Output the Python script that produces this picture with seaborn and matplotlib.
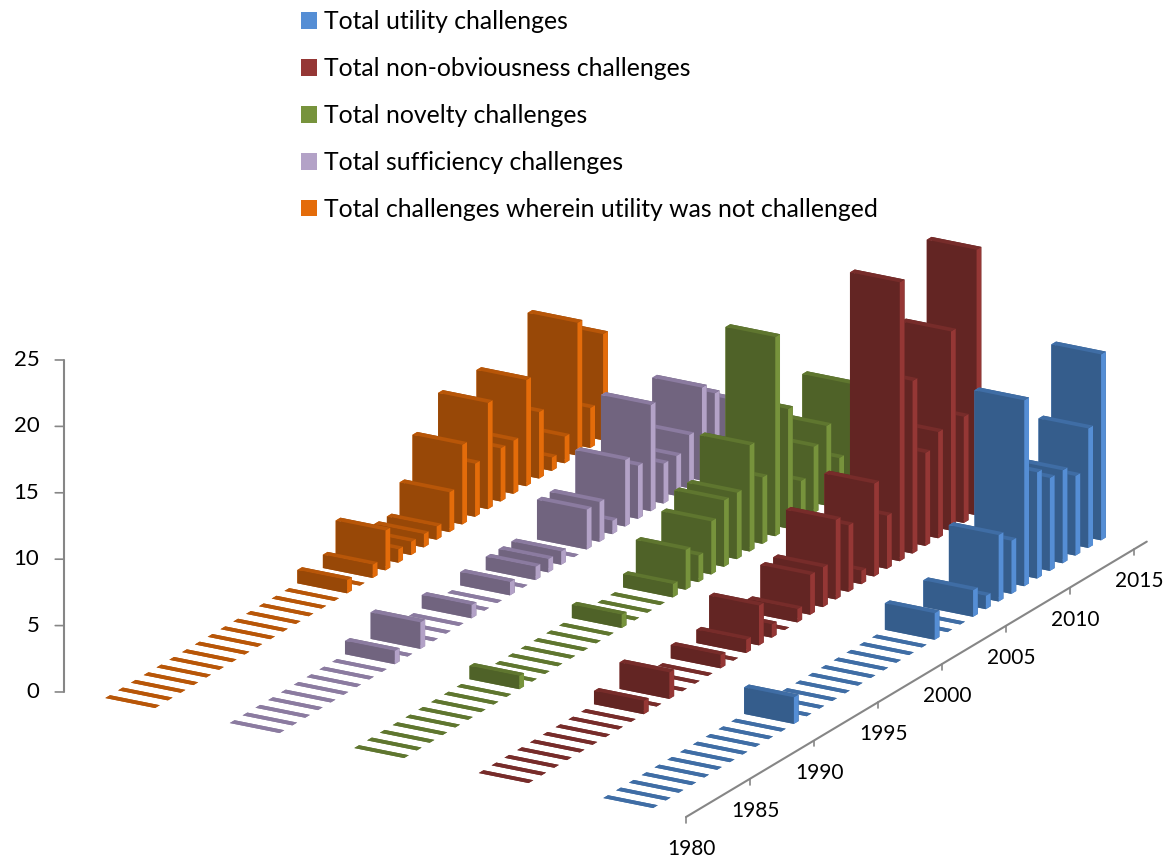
import numpy as np
import seaborn as sns
import matplotlib
matplotlib.use("Agg")
import matplotlib.pyplot as plt
from matplotlib.patches import Patch
from mpl_toolkits.mplot3d import proj3d

years = list(range(1980, 2016))
series_names = [
    "Total utility challenges",
    "Total non-obviousness challenges",
    "Total novelty challenges",
    "Total sufficiency challenges",
    "Total challenges wherein utility was not challenged",
]

utility = [0,0,0,0,0,0,0,0,0,0,0,2,0,0,0,0,0,0,0,0,0,0,2,0,0,2,1,5,4,14,8,7,7,6,9,14]
non_obvious = [0,0,0,0,0,0,0,0,0,1,0,2,0,0,0,1,0,1,3,1,0,1,3,3,6,5,1,7,4,21,13,7,8,15,8,20]
novelty = [0,0,0,0,0,0,0,0,0,1,0,0,0,0,0,0,0,1,0,0,0,1,3,2,4,5,5,8,5,15,9,3,5,6,3,8]
sufficiency = [0,0,0,0,0,0,0,0,0,1,0,2,0,0,0,1,0,0,1,0,1,1,1,0,3,3,1,5,4,8,3,3,4,7,6,5]
not_utility = [0,0,0,0,0,0,0,0,0,0,0,0,0,0,0,1,0,1,3,1,1,1,1,3,6,4,8,4,4,8,5,1,2,10,3,8]
all_series = [utility, non_obvious, novelty, sufficiency, not_utility]

z_ticks = [0, 5, 10, 15, 20, 25]
year_ticks = [1980, 1985, 1990, 1995, 2000, 2005, 2010, 2015]

# face colours per series
side_colors = ["#558ED5", "#953735", "#77933C", "#B3A2C7", "#E46C0A"]
front_colors = ["#355D8C", "#632523", "#4F6228", "#71647F", "#984807"]
top_colors = ["#3F6DA5", "#772C2A", "#5F762F", "#8B7BA0", "#B85608"]

W, H = 1170, 863
GREY = "#868686"

sns.set_theme(style="white")
plt.rcParams["font.family"] = ["Lato", "DejaVu Sans"]

fig = plt.figure(figsize=(W / 100, H / 100), dpi=100)
ax = fig.add_axes([0, 0, 1, 1], projection="3d", proj_type="ortho")
ax.computed_zorder = False

# back rows first so that the front rows paint over them
n = len(all_series)
for s in range(n - 1, -1, -1):
    x = n - 1 - s + 0.312
    faces = [top_colors[s], top_colors[s], front_colors[s], front_colors[s], side_colors[s], side_colors[s]]
    for i in range(len(years) - 1, -1, -1):
        ax.bar3d(x, i + 0.23, 0, 0.40, 0.37, all_series[s][i], color=faces, shade=False, linewidth=0)

# axes are drawn by hand, the 3d panes are off
ax.plot([5, 5], [0, len(years)], [0, 0], color=GREY, lw=1.5)
for yr in year_ticks:
    i = yr - years[0]
    ax.plot([5, 5], [i, i], [0, -0.45], color=GREY, lw=1.2)

ax.plot([0, 0], [0, 0], [0, z_ticks[-1]], color=GREY, lw=1.5)
for z in z_ticks:
    ax.plot([0, -0.05], [0, -0.16], [z, z], color=GREY, lw=1.2)

ax.set_xlim(0, 5)
ax.set_ylim(0, len(years))
ax.set_zlim(0, z_ticks[-1])
ax.set_xticks([])
ax.set_yticks([])
ax.set_zticks([])
ax.view_init(elev=20.27, azim=-59.9)
ax.set_axis_off()
aspect = (719.7, 919, 354)
ax.set_box_aspect(aspect)


def to_px(px, py, pz):
    ax.apply_aspect()
    xs, ys, _ = proj3d.proj_transform(px, py, pz, ax.get_proj())
    return ax.transData.transform((xs, ys))


# fit scale and offset so the origin lands where the reference has it
span = to_px(5, 0, 0)[0] - to_px(0, 0, 0)[0]
ax.set_box_aspect(aspect, zoom=622.5 / span)
origin = to_px(0, 0, 0)
ax.set_position([(63.5 - origin[0]) / W, ((H - 692) - origin[1]) / H, 1, 1])

# the square 3d axes does not cover the whole width of the figure
for art in list(ax.collections) + list(ax.lines):
    art.set_clip_on(False)

# tick labels go on the figure, at the projected spot of each tick
for yr in year_ticks:
    p = to_px(5.355, yr - years[0] - 3.05, 0)
    fig.text(p[0] / W, p[1] / H, str(yr), ha="center", va="center", fontsize=15, color="black")
for z in z_ticks:
    p = to_px(-0.145, -0.475, z)
    fig.text(p[0] / W, p[1] / H, str(z), ha="right", va="center", fontsize=16, color="black")

handles = [Patch(facecolor=c, edgecolor="none") for c in sns.color_palette(side_colors)]
fig.legend(handles, series_names, loc="upper left", bbox_to_anchor=(301 / W, 1 - 10 / H),
           frameon=False, fontsize=17.8, handlelength=0.65, handleheight=0.65,
           handletextpad=0.27, labelspacing=0.97, borderpad=0, borderaxespad=0, labelcolor="black")

fig.savefig("out.png", dpi=100)
